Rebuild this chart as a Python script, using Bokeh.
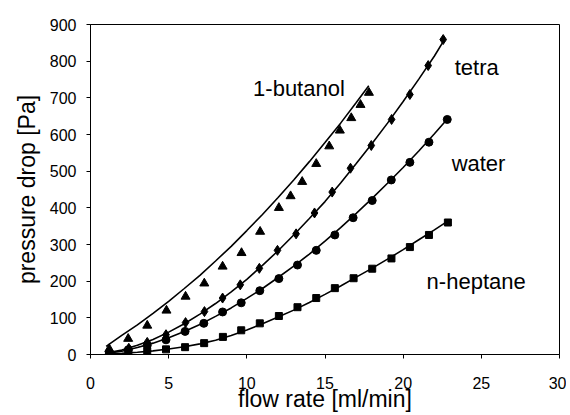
from bokeh.plotting import figure
from bokeh.models import Range1d, Label, FixedTicker
from bokeh.embed import file_html
from bokeh.resources import INLINE

# ---- data ----
x_ticks = [0, 5, 10, 15, 20, 25, 30]
y_ticks = [0, 100, 200, 300, 400, 500, 600, 700, 800, 900]

butanol_x = [1.2, 2.41, 3.63, 4.86, 6.08, 7.28, 8.45, 9.66, 10.85, 12.05, 12.8, 13.54, 14.44, 15.27, 15.95, 16.68, 17.27, 17.81]
butanol_y = [15, 43, 79, 120, 158, 194, 240, 277, 335, 400, 432, 471, 520, 568, 611, 645, 681, 714]

tetra_x = [1.2, 2.45, 3.63, 4.83, 6.08, 7.29, 8.45, 9.58, 10.8, 11.96, 13.15, 14.33, 15.46, 16.63, 17.96, 19.26, 20.43, 21.6, 22.56]
tetra_y = [5, 17, 33, 54, 87, 117, 154, 190, 235, 284, 329, 386, 443, 508, 570, 641, 709, 788, 859]

water_x = [1.2, 2.42, 3.63, 4.83, 6.05, 7.25, 8.45, 9.64, 10.83, 12.05, 13.24, 14.44, 15.63, 16.8, 18.02, 19.24, 20.43, 21.65, 22.82]
water_y = [4, 13, 25, 40, 63, 85, 116, 141, 174, 207, 244, 284, 326, 373, 420, 476, 524, 579, 641]

heptane_x = [1.2, 2.42, 3.63, 4.83, 6.05, 7.27, 8.47, 9.64, 10.83, 12.05, 13.24, 14.44, 15.63, 16.83, 18.02, 19.25, 20.43, 21.65, 22.86]
heptane_y = [2, 5, 9, 14, 20, 31, 48, 66, 85, 105, 129, 154, 181, 208, 234, 262, 293, 326, 360]

# fitted model curves
butanol_fit_x = [1, 2, 3, 4, 5, 6, 7, 8, 9, 10, 11, 12, 13, 14, 15, 16, 17, 17.8]
butanol_fit_y = [22, 52, 81, 112, 145, 180, 216, 255, 295, 338, 382, 428, 476, 526, 578, 631, 687, 733]

tetra_fit_x = [1, 2, 3, 4, 5, 6, 7, 8, 9, 10, 11, 12, 13, 14, 15, 16, 17, 18, 19, 20, 21, 22, 22.6]
tetra_fit_y = [4, 12, 25, 41, 61, 84, 110, 139, 171, 205, 243, 283, 326, 371, 417, 468, 521, 575, 631, 690, 751, 814, 856]

water_fit_x = [1, 2, 3, 4, 5, 6, 7, 8, 9, 10, 11, 12, 13, 14, 15, 16, 17, 18, 19, 20, 21, 22, 22.8]
water_fit_y = [3, 9, 19, 31, 46, 63, 82, 104, 127, 153, 180, 210, 241, 274, 309, 346, 385, 425, 467, 510, 555, 602, 641]

heptane_fit_x = [1, 2, 3, 4, 5, 6, 7, 8, 9, 10, 11, 12, 13, 14, 15, 16, 17, 18, 19, 20, 21, 22, 22.9]
heptane_fit_y = [1, 3, 6, 10, 15, 21, 29, 39, 52, 67, 84, 102, 121, 142, 164, 187, 211, 235, 260, 286, 313, 340, 365]

curve_labels = ["1-butanol", "tetra", "water", "n-heptane"]
label_x = [10.4, 23.3, 23.1, 21.5]
label_y = [725, 783, 520, 200]

FONT = "Liberation Sans"

p = figure(width=566, height=414, x_range=Range1d(0, 30), y_range=Range1d(0, 900),
           output_backend="svg", toolbar_location=None,
           min_border_left=90, min_border_right=7, min_border_top=24, min_border_bottom=60)

p.background_fill_color = "white"
p.border_fill_color = "white"
p.outline_line_color = "black"
p.outline_line_width = 1
p.grid.visible = False

p.xaxis.ticker = FixedTicker(ticks=x_ticks)
p.yaxis.ticker = FixedTicker(ticks=y_ticks)
for ax in (p.xaxis, p.yaxis):
    ax.axis_line_color = "black"
    ax.major_tick_line_color = "black"
    ax.major_tick_out = 4
    ax.major_tick_in = 0
    ax.minor_tick_line_color = None
    ax.major_label_text_font = FONT
    ax.major_label_text_font_size = "16px"
    ax.major_label_text_color = "black"
    ax.axis_label_text_font = FONT
    ax.axis_label_text_font_size = "23px"
    ax.axis_label_text_font_style = "normal"
    ax.axis_label_text_color = "black"

p.xaxis.axis_label = "flow rate [ml/min]"
p.yaxis.axis_label = "pressure drop [Pa]"
p.xaxis.major_label_standoff = 18
p.xaxis.axis_label_standoff = -6
p.yaxis.major_label_standoff = 10
p.yaxis.axis_label_standoff = 7

# fit lines
for fx, fy in [(butanol_fit_x, butanol_fit_y), (tetra_fit_x, tetra_fit_y),
               (water_fit_x, water_fit_y), (heptane_fit_x, heptane_fit_y)]:
    p.line(fx, fy, line_color="black", line_width=1.6)

# measured points
p.scatter(butanol_x, butanol_y, marker="triangle", size=9, color="black")
p.scatter(tetra_x, tetra_y, marker="diamond", size=10, color="black")
p.scatter(water_x, water_y, marker="circle", size=8, color="black")
p.scatter(heptane_x, heptane_y, marker="square", size=7, color="black")

for t, lx, ly in zip(curve_labels, label_x, label_y):
    p.add_layout(Label(x=lx, y=ly, text=t, text_font=FONT, text_font_size="22px",
                       text_color="black", text_align="left", text_baseline="middle"))

open("out.html", "w").write(file_html(p, INLINE))
